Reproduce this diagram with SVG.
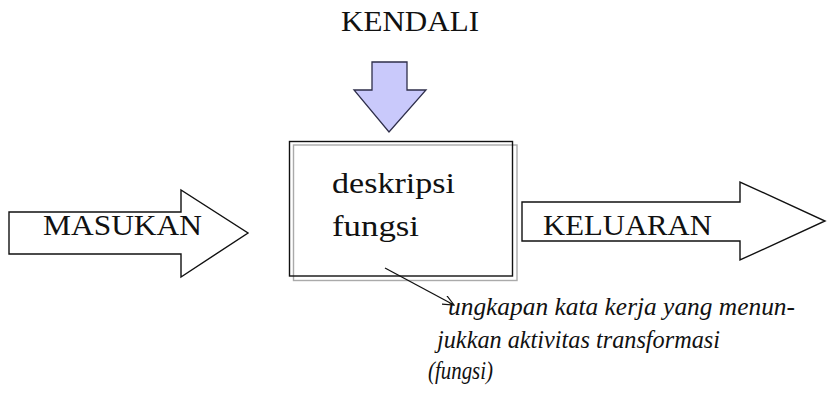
<svg xmlns="http://www.w3.org/2000/svg" width="827" height="398" viewBox="0 0 827 398">
  <style>
    .lbl { font-size: 29px; fill: #111; }
    .note { font-size: 25px; font-style: italic; fill: #111; }
    .block { fill: #fff; stroke: #111; stroke-width: 1.4; }
  </style>
  <defs>
    <marker id="open-head" viewBox="0 0 12 10" refX="11" refY="5" markerWidth="12" markerHeight="10" markerUnits="userSpaceOnUse" orient="auto">
      <path d="M0,0 L11,5 L0,10" fill="none" stroke="#111" stroke-width="1.2"/>
    </marker>
  </defs>
  <rect width="827" height="398" fill="#fff"/>

  <!-- control input -->
  <g id="kendali" font-family="Liberation Serif, serif">
    <text class="lbl" x="341" y="31" textLength="138" lengthAdjust="spacingAndGlyphs">KENDALI</text>
    <path d="M372,62 L407,62 L407,90 L426,90 L389,132 L354,90 L372,90 Z" fill="#c9c9fb" stroke="#2e2e4a" stroke-width="1.3"/>
  </g>

  <!-- input arrow -->
  <g id="masukan" font-family="Liberation Serif, serif">
    <path class="block" d="M9,212 L181,212 L181,190 L248,233 L181,277 L181,254 L9,254 Z"/>
    <text class="lbl" x="43" y="235" textLength="159" lengthAdjust="spacingAndGlyphs">MASUKAN</text>
  </g>

  <!-- function box -->
  <g id="fungsi" font-family="Liberation Serif, serif">
    <rect x="293.5" y="145" width="223.5" height="135.5" fill="none" stroke="#aaa" stroke-width="1.4"/>
    <rect x="289.5" y="141.5" width="223" height="134.5" fill="none" stroke="#111" stroke-width="1.4"/>
    <text class="lbl" x="332" y="193" textLength="123" lengthAdjust="spacingAndGlyphs">deskripsi</text>
    <text class="lbl" x="332" y="236" textLength="87" lengthAdjust="spacingAndGlyphs">fungsi</text>
  </g>

  <!-- output arrow -->
  <g id="keluaran" font-family="Liberation Serif, serif">
    <path class="block" d="M522,202 L740,202 L740,182 L825,221 L740,260 L740,241 L522,241 Z"/>
    <text class="lbl" x="543" y="235" textLength="169" lengthAdjust="spacingAndGlyphs">KELUARAN</text>
  </g>

  <!-- annotation -->
  <g id="catatan" font-family="Liberation Serif, serif">
    <text class="note" x="448" y="315" textLength="347" lengthAdjust="spacingAndGlyphs">ungkapan kata kerja yang menun-</text>
    <text class="note" x="437" y="348" textLength="283" lengthAdjust="spacingAndGlyphs">jukkan aktivitas transformasi</text>
    <text class="note" x="428" y="379" textLength="65" lengthAdjust="spacingAndGlyphs">(fungsi)</text>
  </g>

  <g id="connectors">
    <line x1="385" y1="268" x2="454" y2="305" stroke="#111" stroke-width="1.3" marker-end="url(#open-head)"/>
  </g>
</svg>
